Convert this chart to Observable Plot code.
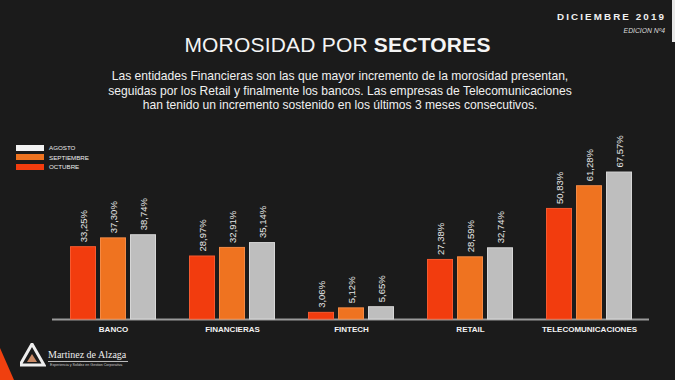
<!DOCTYPE html>
<html><head><meta charset="utf-8">
<script src="https://cdn.jsdelivr.net/npm/d3@7"></script>
<script src="https://cdn.jsdelivr.net/npm/@observablehq/plot@0.6"></script>
<style>
html,body{margin:0;padding:0;background:#1b1b1b;}
#page{position:relative;width:675px;height:380px;overflow:hidden;background:#1b1b1b;font-family:"Liberation Sans",Arial,sans-serif;color:#f2f2f2;}
.abs{position:absolute;}
#date{right:9px;top:11px;font-size:9.8px;letter-spacing:2.1px;color:#f0f0f0;font-weight:bold;}
#ed{right:10px;top:27px;font-size:6.8px;font-style:italic;color:#ddd;}
#stripe{right:0;top:0;width:3px;height:42px;background:#e8e8e8;}
#title{left:0;width:675px;top:33px;text-align:center;font-size:21px;color:#f4f4f4;letter-spacing:0.2px;}
#title b{font-weight:bold;}
#sub{left:0;width:680px;top:69px;text-align:center;font-size:12.1px;line-height:14.6px;color:#f0f0f0;}
#legend{left:16px;top:143px;}
.li{display:flex;align-items:center;height:9.5px;}
.sw{width:28px;height:6px;margin-right:5px;}
.lt{font-size:6.2px;color:#eee;}
#chart{left:0;top:120px;}
#logo{left:20px;top:343px;}
#tri{left:0;top:340px;}
#lname{left:48px;top:349px;font-family:"Liberation Serif","DejaVu Serif",serif;font-size:10px;color:#eee;}
#lline{left:48px;top:361px;width:80px;height:1px;background:#bbb;}
#lsub{left:50px;top:363px;font-size:3.6px;color:#ccc;}
</style></head>
<body><div id="page">
<div id="stripe" class="abs"></div>
<div id="date" class="abs">DICIEMBRE 2019</div>
<div id="ed" class="abs">EDICION Nº4</div>
<div id="title" class="abs">MOROSIDAD POR <b>SECTORES</b></div>
<div id="sub" class="abs">Las entidades Financieras son las que mayor incremento de la morosidad presentan,<br>seguidas por los Retail y finalmente los bancos. Las empresas de Telecomunicaciones<br>han tenido un incremento sostenido en los últimos 3 meses consecutivos.</div>
<div id="legend" class="abs"></div>
<div id="chart" class="abs"></div>
<svg id="tri" class="abs" width="20" height="40"><path d="M0,8 L14,40 L0,40 Z" fill="#f0400f"/></svg>
<svg id="logo" class="abs" width="26" height="24"><path d="M12,1 L24,22 L0,22 Z" fill="none" stroke="#eee" stroke-width="3"/><path d="M12,11 L17,19 L7,19 Z" fill="#c98a66"/></svg>
<div id="lname" class="abs">Martinez de Alzaga</div>
<div id="lline" class="abs"></div>
<div id="lsub" class="abs">Experiencia y Solidez en Gestion Corporativa</div>
</div>
<script>
const sectors = ["BANCO", "FINANCIERAS", "FINTECH", "RETAIL", "TELECOMUNICACIONES"];
const months = ["OCTUBRE", "SEPTIEMBRE", "AGOSTO"];
const octubre = [33.25, 28.97, 3.06, 27.38, 50.83];
const septiembre = [37.30, 32.91, 5.12, 28.59, 61.28];
const agosto = [38.74, 35.14, 5.65, 32.74, 67.57];
const legendOrder = ["AGOSTO", "SEPTIEMBRE", "OCTUBRE"];

const barColors = {OCTUBRE: "#f23c0e", SEPTIEMBRE: "#ef7320", AGOSTO: "#bebebe"};
const barStrokes = {OCTUBRE: "#f65a30", SEPTIEMBRE: "#f48a45", AGOSTO: "#d6d6d6"};
const swatchColors = {OCTUBRE: "#f23c0e", SEPTIEMBRE: "#ef7320", AGOSTO: "#f2f2f2"};
const series = {OCTUBRE: octubre, SEPTIEMBRE: septiembre, AGOSTO: agosto};

const fmt = d3.formatLocale({decimal: ",", thousands: ".", grouping: [3], currency: ["", ""]}).format(".2f");

const marks = [Plot.ruleY([0], {stroke: "#9a9a9a", strokeWidth: 2})];
months.forEach((m, i) => {
  const rows = sectors.map((s, j) => ({sector: s, month: m, value: series[m][j]}));
  marks.push(Plot.barY(rows, {
    x: "sector", y: "value", fill: barColors[m], stroke: barStrokes[m], strokeWidth: 1,
    insetLeft: i * 30 + 0.5, insetRight: (2 - i) * 30 + 0.5
  }));
  marks.push(Plot.text(rows, {
    x: "sector", y: "value", text: d => fmt(d.value) + "%",
    rotate: -90, textAnchor: "start", dx: (i - 1) * 30, dy: -5,
    fill: "#e6e6e6", fontSize: 9.5, fontWeight: "normal"
  }));
});

const chart = Plot.plot({
  width: 675, height: 220,
  marginTop: 25, marginBottom: 21, marginLeft: 52, marginRight: 26,
  style: {background: "transparent", color: "#f2f2f2", fontFamily: "Liberation Sans, Arial, sans-serif", fontSize: "8px", fontWeight: "bold"},
  x: {domain: sectors, paddingInner: 0.28, paddingOuter: 0.14, label: null, tickSize: 0, tickPadding: 7},
  y: {domain: [0, 80], axis: null},
  marks
});
document.getElementById("chart").appendChild(chart);

const lg = document.getElementById("legend");
legendOrder.forEach(m => {
  const row = document.createElement("div"); row.className = "li";
  const sw = document.createElement("div"); sw.className = "sw"; sw.style.background = swatchColors[m];
  const t = document.createElement("span"); t.className = "lt"; t.textContent = m;
  row.appendChild(sw); row.appendChild(t); lg.appendChild(row);
});
</script>
</body></html>
